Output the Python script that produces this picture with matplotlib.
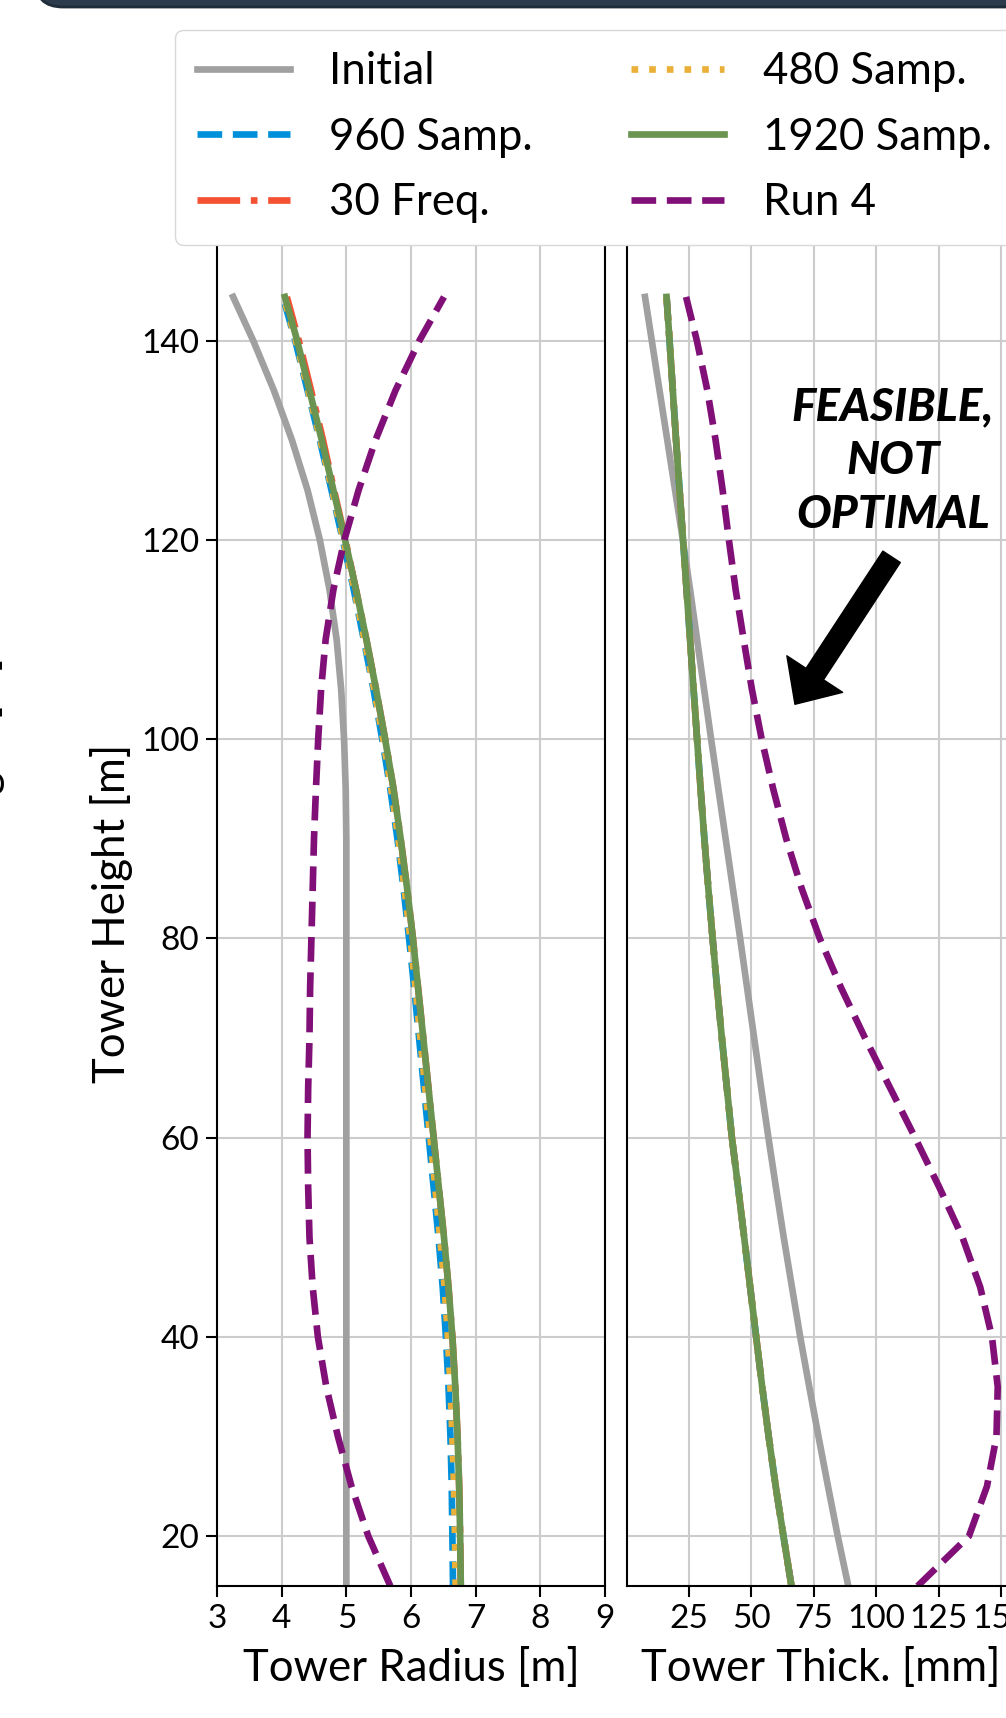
import matplotlib
matplotlib.use("Agg")
import matplotlib.pyplot as plt
import matplotlib.patches as mpatches
import matplotlib.transforms as mtransforms

plt.rcParams['font.family'] = ['Lato', 'DejaVu Sans']

# tower stations [m]
heights = [15, 20, 25, 30, 35, 40, 45, 50, 55, 60, 65, 70, 75, 80, 85,
           90, 95, 100, 105, 110, 115, 120, 125, 130, 135, 140, 144.386]

# outer radius [m]
rad_initial = [5.0, 5.0, 5.0, 5.0, 5.0, 5.0, 5.0, 5.0, 5.0, 5.0, 5.0, 5.0, 5.0, 5.0, 5.0,
               5.0, 4.99, 4.965, 4.92, 4.85, 4.74, 4.59, 4.40, 4.16, 3.88, 3.56, 3.25]
rad_960 = [6.65, 6.64, 6.63, 6.61, 6.58, 6.54, 6.49, 6.425, 6.35, 6.275, 6.20, 6.125, 6.05, 5.97, 5.885,
           5.79, 5.68, 5.555, 5.42, 5.27, 5.115, 4.945, 4.77, 4.59, 4.40, 4.21, 4.02]
rad_30f = [6.77, 6.76, 6.745, 6.72, 6.685, 6.64, 6.58, 6.51, 6.43, 6.35, 6.27, 6.19, 6.11, 6.03, 5.94,
           5.84, 5.73, 5.60, 5.46, 5.31, 5.15, 4.985, 4.81, 4.64, 4.455, 4.265, 4.08]
rad_480 = [6.69, 6.68, 6.665, 6.64, 6.61, 6.57, 6.52, 6.45, 6.375, 6.30, 6.22, 6.145, 6.07, 5.99, 5.90,
           5.805, 5.695, 5.57, 5.43, 5.28, 5.125, 4.955, 4.78, 4.60, 4.41, 4.22, 4.03]
rad_1920 = [6.77, 6.76, 6.745, 6.72, 6.685, 6.64, 6.58, 6.51, 6.43, 6.35, 6.27, 6.19, 6.11, 6.03, 5.94,
            5.84, 5.73, 5.60, 5.46, 5.31, 5.15, 4.98, 4.80, 4.62, 4.43, 4.24, 4.05]
rad_run4 = [5.68, 5.34, 5.08, 4.87, 4.69, 4.56, 4.48, 4.43, 4.41, 4.40, 4.41, 4.43, 4.44, 4.46, 4.48,
            4.50, 4.53, 4.565, 4.61, 4.68, 4.80, 4.97, 5.19, 5.45, 5.76, 6.13, 6.51]

# wall thickness [mm]
thk_initial = [88.8, 84.6, 80.7, 76.9, 73.2, 69.6, 66.3, 63.0, 59.9, 56.9, 54.0, 51.2, 48.4, 45.6, 42.7,
               39.8, 36.9, 34.0, 31.2, 28.4, 25.6, 22.7, 19.6, 16.5, 13.4, 10.3, 7.6]
thk_opt = [66.1, 62.9, 59.8, 57.0, 54.4, 52.0, 49.6, 47.2, 44.8, 42.3, 40.3, 38.3, 36.4, 34.6, 32.9,
           31.3, 29.8, 28.4, 27.0, 25.6, 24.2, 22.8, 21.4, 20.0, 18.7, 17.4, 16.2]
thk_run4 = [116.5, 137.0, 144.2, 148.0, 148.5, 146.2, 141.5, 134.4, 125.2, 115.5, 105.5, 95.5, 86.0, 77.4, 70.2,
            64.0, 58.8, 54.2, 50.3, 47.0, 43.8, 41.1, 38.6, 35.8, 32.5, 28.3, 24.0]

c_gray = '#a0a0a0'
c_blue = '#0090da'
c_red = '#f55032'
c_orange = '#eab038'
c_green = '#6a9450'
c_purple = '#801078'
lw = 4.8

W, H = 1006, 1718
fig = plt.figure(figsize=(W / 100, H / 100), dpi=100)

ax1 = fig.add_axes([217 / W, 1 - 1586 / H, 388 / W, 1345 / H])
ax2 = fig.add_axes([627 / W, 1 - 1586 / H, 388 / W, 1345 / H], sharey=ax1)

series = [
    ('Initial', rad_initial, thk_initial, c_gray, '-'),
    ('960 Samp.', rad_960, thk_opt, c_blue, '--'),
    ('30 Freq.', rad_30f, thk_opt, c_red, '-.'),
    ('480 Samp.', rad_480, thk_opt, c_orange, ':'),
    ('1920 Samp.', rad_1920, thk_opt, c_green, '-'),
    ('Run 4', rad_run4, thk_run4, c_purple, '--'),
]

handles = []
for name, r, t, col, ls in series:
    h, = ax1.plot(r, heights, color=col, ls=ls, lw=lw, label=name)
    ax2.plot(t, heights, color=col, ls=ls, lw=lw)
    handles.append(h)

for ax in (ax1, ax2):
    ax.grid(True, color='#cccccc', lw=1.5)
    ax.tick_params(labelsize=24, length=8, width=1.5, pad=5)
    for s in ax.spines.values():
        s.set_linewidth(1.5)

ax1.set_xlim(3, 9)
ax1.set_ylim(15, 150)
ax1.set_xticks([3, 4, 5, 6, 7, 8, 9])
ax1.set_yticks([20, 40, 60, 80, 100, 120, 140])
ax1.set_xlabel('Tower Radius [m]', fontsize=31.5)
ax1.set_ylabel('Tower Height [m]', fontsize=31.5)
ax1.xaxis.set_label_coords(0.5, -0.046)
ax1.yaxis.set_label_coords(-0.216, 0.5)

ax2.set_xlim(0.4, 155.4)
ax2.set_xticks([25, 50, 75, 100, 125, 150])
ax2.tick_params(axis='y', left=False, labelleft=False)
ax2.set_xlabel('Tower Thick. [mm]', fontsize=31.5)
ax2.xaxis.set_label_coords(0.5, -0.046)

ax2.text(106.7, 127.9, 'FEASIBLE,\nNOT\nOPTIMAL', fontsize=33, fontweight='black',
         fontstyle='italic', ha='center', va='center', multialignment='center',
         linespacing=1.34)
ax2.annotate('', xy=(67.5, 103.5), xytext=(106.1, 118.3),
             arrowprops=dict(facecolor='black', edgecolor='black', width=15,
                             headwidth=48, headlength=26, shrink=0))

fig.legend(handles=handles, ncol=2, loc='upper left',
           bbox_to_anchor=(175 / W, 1 - 29.6 / H), borderaxespad=0,
           fontsize=31.5, handlelength=2.12, columnspacing=2.25, handletextpad=0.9,
           labelspacing=0.555, borderpad=0.5, framealpha=1, edgecolor='#d8d8d8',
           fancybox=True)

# partial border of the panel above
top = mpatches.FancyBboxPatch((35, H - 7), 1200, 120,
                              boxstyle='round,pad=0,rounding_size=28',
                              transform=mtransforms.IdentityTransform(),
                              facecolor='#2c3c4c', edgecolor='#1f2c39', lw=2)
fig.add_artist(top)

# y label of the neighbouring panel, cut by the crop
fig.text(5 / W, 1 - 826 / H, 'Tower Height [m]', rotation=90, ha='right',
         va='center', fontsize=31.5)

fig.savefig('out.png', dpi=100)
